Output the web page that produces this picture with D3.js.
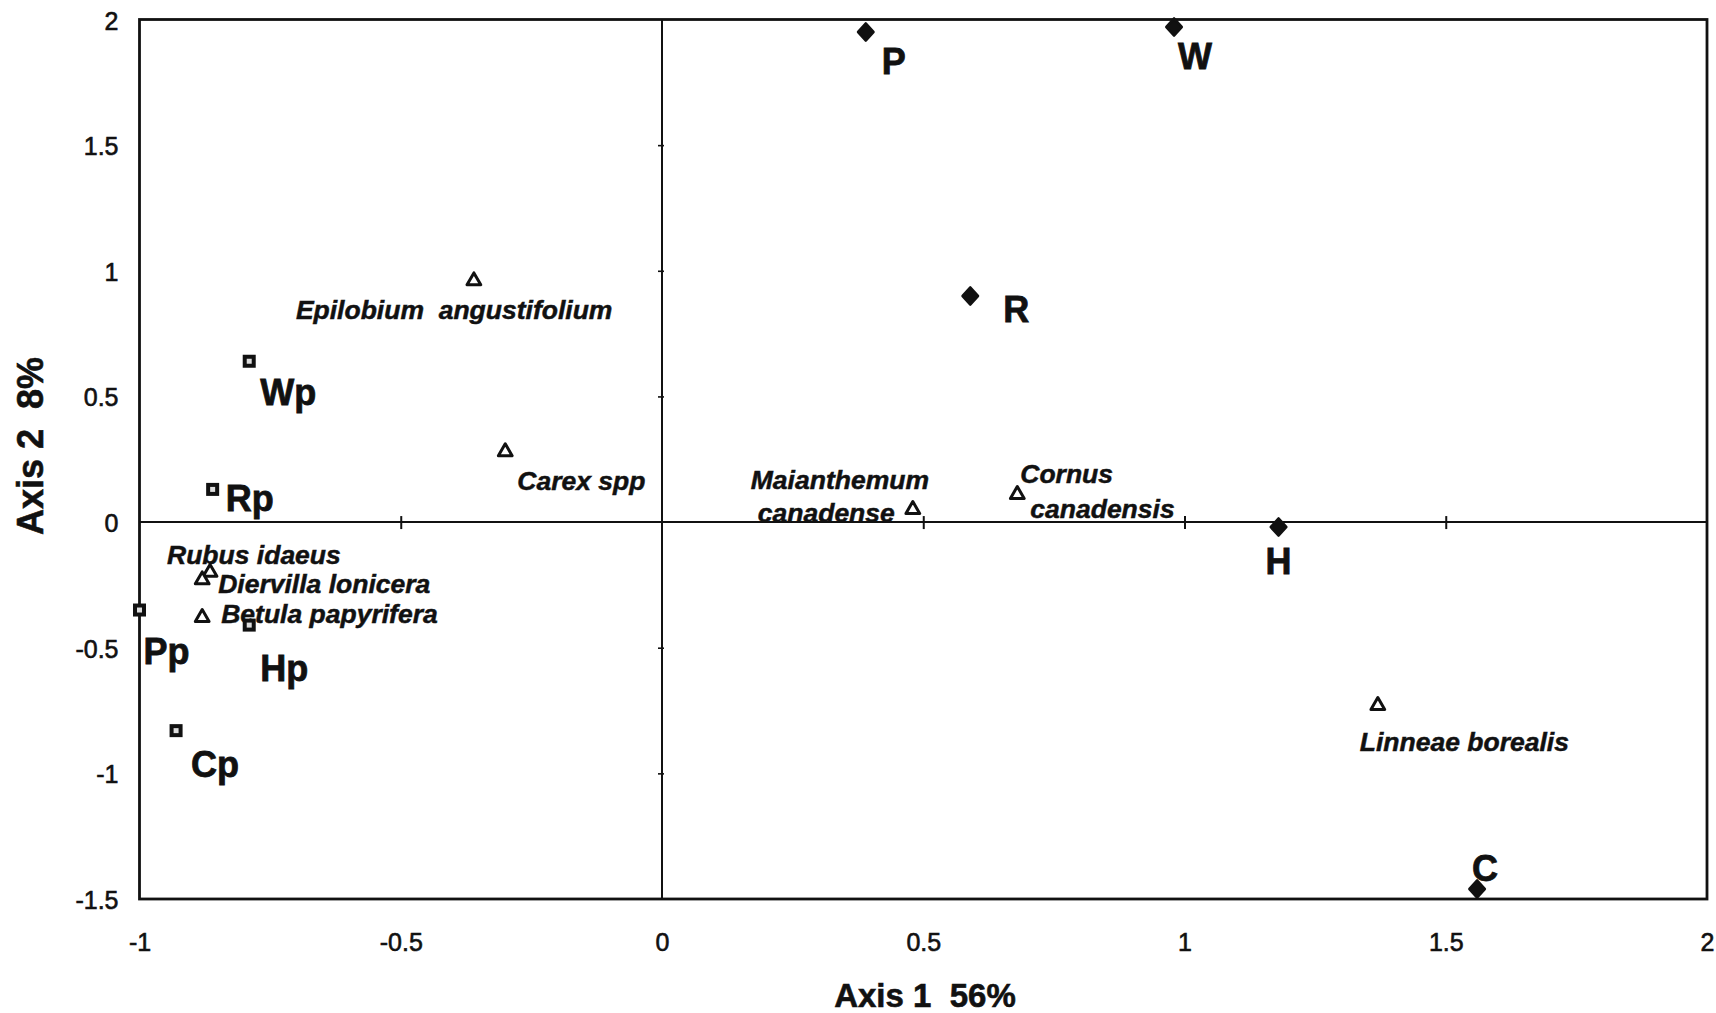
<!DOCTYPE html>
<html>
<head>
<meta charset="utf-8">
<script src="https://cdn.jsdelivr.net/npm/d3@7"></script>
<style>
  html, body { margin: 0; padding: 0; background: #fff; }
  svg { display: block; }
  text { font-family: "Liberation Sans", Arial, Helvetica, sans-serif; fill: #111; white-space: pre; }
</style>
</head>
<body>
<svg id="chart" width="1716" height="1013"></svg>
<script>
// Ordination scores: sites (diamonds), plots (squares), species (triangles)
const siteNames  = ["P", "W", "R", "H", "C"];
const siteAxis1  = [0.39, 0.98, 0.59, 1.18, 1.56];
const siteAxis2  = [1.95, 1.97, 0.90, -0.02, -1.46];

const plotNames  = ["Wp", "Rp", "Pp", "Hp", "Cp"];
const plotAxis1  = [-0.79, -0.86, -1.00, -0.79, -0.93];
const plotAxis2  = [0.64, 0.13, -0.35, -0.41, -0.83];

const speciesNames = ["Epilobium  angustifolium", "Carex spp", "Rubus idaeus", "Diervilla lonicera",
                      "Betula papyrifera", "Maianthemum canadense", "Cornus canadensis", "Linneae borealis"];
const speciesAxis1 = [-0.36, -0.30, -0.865, -0.88, -0.88, 0.48, 0.68, 1.37];
const speciesAxis2 = [0.96, 0.28, -0.20, -0.23, -0.38, 0.05, 0.11, -0.73];

const xTickValues = [-1, -0.5, 0, 0.5, 1, 1.5, 2];
const xTickLabels = ["-1", "-0.5", "0", "0.5", "1", "1.5", "2"];
const yTickValues = [2, 1.5, 1, 0.5, 0, -0.5, -1, -1.5];
const yTickLabels = ["2", "1.5", "1", "0.5", "0", "-0.5", "-1", "-1.5"];

const xTitle = "Axis 1  56%";
const yTitle = "Axis 2  8%";

// Label placement relative to each mark, in pixels (one entry per text line)
const siteLabelOffset = { P: [16, 42], W: [4, 42], R: [33, 26], H: [-13, 47], C: [-5, -8] };
const plotLabelOffset = { Wp: [11, 44], Rp: [13, 22], Pp: [4, 54], Hp: [11, 56], Cp: [15, 46] };
const speciesLabelOffset = {
  "Epilobium  angustifolium": [[-178, 38]],
  "Carex spp": [[12, 38]],
  "Rubus idaeus": [[-43, -8]],
  "Diervilla lonicera": [[16, 13]],
  "Betula papyrifera": [[19, 5]],
  "Maianthemum canadense": [[-162, -21], [-155, 12]],
  "Cornus canadensis": [[3, -11], [13, 24]],
  "Linneae borealis": [[-18, 45]]
};

const ink = "#111";
const svg = d3.select("#chart");
const x = d3.scaleLinear().domain([-1, 2]).range([139.5, 1707]);
const y = d3.scaleLinear().domain([-1.5, 2]).range([899, 19.5]);

// Plot frame
svg.append("rect")
  .attr("x", x(-1)).attr("y", y(2))
  .attr("width", x(2) - x(-1)).attr("height", y(-1.5) - y(2))
  .attr("fill", "none").attr("stroke", ink).attr("stroke-width", 2.8);

// Axes through the origin
svg.append("line")
  .attr("x1", x(-1)).attr("x2", x(2)).attr("y1", y(0)).attr("y2", y(0))
  .attr("stroke", ink).attr("stroke-width", 2);
svg.append("line")
  .attr("x1", x(0)).attr("x2", x(0)).attr("y1", y(2)).attr("y2", y(-1.5))
  .attr("stroke", ink).attr("stroke-width", 2);

// Small cross ticks on the origin axes
const innerX = d3.axisBottom(x).tickValues(xTickValues.filter(v => v > -1 && v < 2 && v !== 0))
  .tickSize(7).tickFormat("");
const gx = svg.append("g").attr("transform", `translate(0,${y(0) - 6})`).call(innerX);
gx.select(".domain").remove();
gx.selectAll(".tick line").attr("y1", 0).attr("y2", 13).attr("stroke", ink).attr("stroke-width", 2);

const innerY = d3.axisLeft(y).tickValues(yTickValues.filter(v => v > -1.5 && v < 2 && v !== 0))
  .tickSize(6).tickFormat("");
const gy = svg.append("g").attr("transform", `translate(${x(0) + 2},0)`).call(innerY);
gy.select(".domain").remove();
gy.selectAll(".tick line").attr("stroke", ink).attr("stroke-width", 1.6);

// Tick labels along the frame
const tickText = sel => sel
  .style("font-size", "25px").style("font-family", "'Liberation Sans', Arial, sans-serif")
  .attr("fill", ink).attr("stroke", ink).attr("stroke-width", 0.6);

const bottomAxis = d3.axisBottom(x).tickValues(xTickValues)
  .tickFormat((d, i) => xTickLabels[i]).tickSize(0).tickPadding(0);
const gb = svg.append("g").attr("transform", `translate(0,${y(-1.5)})`).call(bottomAxis);
gb.select(".domain").remove();
gb.selectAll(".tick text").attr("y", 52).attr("dy", null).call(tickText);

const leftAxis = d3.axisLeft(y).tickValues(yTickValues)
  .tickFormat((d, i) => yTickLabels[i]).tickSize(0).tickPadding(0);
const gl = svg.append("g").attr("transform", `translate(${x(-1) - 21},0)`).call(leftAxis);
gl.select(".domain").remove();
gl.selectAll(".tick text").attr("x", 0).attr("dy", "0.38em").call(tickText);

// Axis titles
svg.append("text")
  .attr("x", 925).attr("y", 1007)
  .attr("text-anchor", "middle")
  .attr("stroke", ink).attr("stroke-width", 0.6)
  .style("font-size", "33px").style("font-weight", "bold")
  .text(xTitle);
svg.append("text")
  .attr("transform", `translate(43,446) rotate(-90)`)
  .attr("text-anchor", "middle")
  .attr("stroke", ink).attr("stroke-width", 0.6)
  .style("font-size", "36px").style("font-weight", "bold")
  .text(yTitle);

// Species: open triangles with italic names
const triangle = d3.symbol().type(d3.symbolTriangle).size(82);
const species = speciesNames.map((n, i) => ({ name: n, a1: speciesAxis1[i], a2: speciesAxis2[i] }));
svg.append("g").selectAll("path").data(species).join("path")
  .attr("d", triangle)
  .attr("transform", d => `translate(${x(d.a1)},${y(d.a2)})`)
  .attr("fill", "#fff").attr("stroke", ink).attr("stroke-width", 3)
  .attr("stroke-linejoin", "round");

species.forEach(d => {
  const offs = speciesLabelOffset[d.name];
  const lines = offs.length > 1 ? d.name.split(" ") : [d.name];
  lines.forEach((line, k) => {
    svg.append("text")
      .attr("x", x(d.a1) + offs[k][0]).attr("y", y(d.a2) + offs[k][1])
      .attr("stroke", ink).attr("stroke-width", 0.5)
      .style("font-size", "26.5px").style("font-weight", "bold").style("font-style", "italic")
      .text(line);
  });
});

// Plots: small dark squares with a pale centre
const plots = plotNames.map((n, i) => ({ name: n, a1: plotAxis1[i], a2: plotAxis2[i] }));
svg.append("g").selectAll("rect").data(plots).join("rect")
  .attr("x", d => x(d.a1) - 4.5).attr("y", d => y(d.a2) - 4.5)
  .attr("width", 9).attr("height", 9)
  .attr("fill", "#ddd").attr("stroke", ink).attr("stroke-width", 4);
svg.append("g").selectAll("text").data(plots).join("text")
  .attr("x", d => x(d.a1) + plotLabelOffset[d.name][0])
  .attr("y", d => y(d.a2) + plotLabelOffset[d.name][1])
  .attr("stroke", ink).attr("stroke-width", 0.8)
  .style("font-size", "36px").style("font-weight", "bold")
  .text(d => d.name);

// Sites: filled diamonds
const diamond = d3.symbol().type(d3.symbolSquare).size(120);
const sites = siteNames.map((n, i) => ({ name: n, a1: siteAxis1[i], a2: siteAxis2[i] }));
svg.append("g").selectAll("path").data(sites).join("path")
  .attr("d", diamond)
  .attr("transform", d => `translate(${x(d.a1)},${y(d.a2)}) scale(1,1.1) rotate(45)`)
  .attr("fill", ink).attr("stroke", ink).attr("stroke-width", 2.5)
  .attr("stroke-linejoin", "round");
svg.append("g").selectAll("text").data(sites).join("text")
  .attr("x", d => x(d.a1) + siteLabelOffset[d.name][0])
  .attr("y", d => y(d.a2) + siteLabelOffset[d.name][1])
  .attr("stroke", ink).attr("stroke-width", 0.8)
  .style("font-size", "36px").style("font-weight", "bold")
  .text(d => d.name);
</script>
</body>
</html>
